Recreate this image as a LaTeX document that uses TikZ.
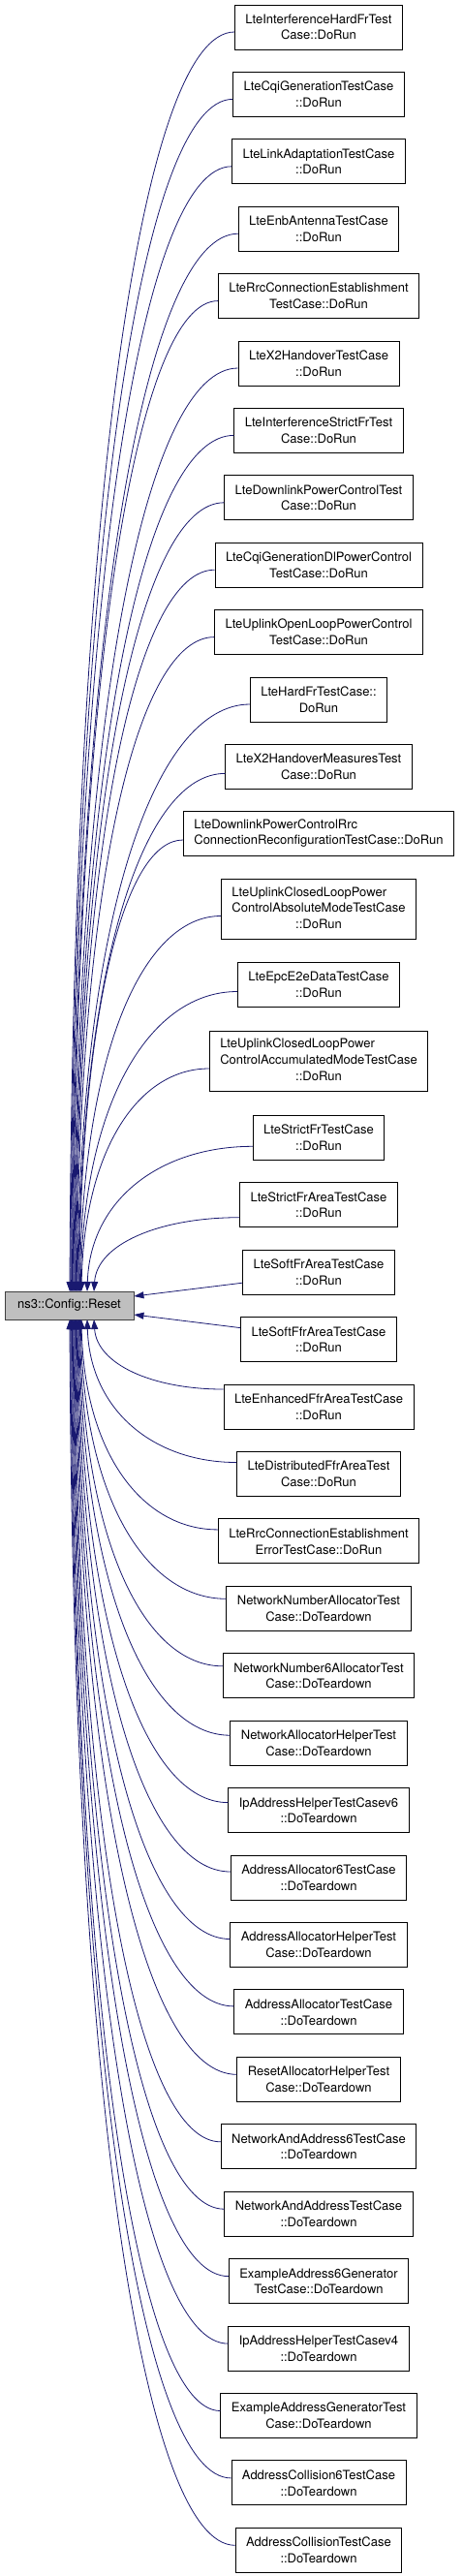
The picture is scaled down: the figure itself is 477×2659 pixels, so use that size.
\documentclass[tikz,border=0pt]{standalone}
\usepackage{fontspec}
\setmainfont{TeX Gyre Heros}
\usepackage{xcolor}
\usetikzlibrary{arrows.meta, calc, positioning}
\definecolor{edgeblue}{RGB}{25,25,112}
\definecolor{resetgray}{RGB}{191,191,191}
\definecolor{resetborder}{RGB}{64,64,64}

\begin{document}
\begin{tikzpicture}[
    x=1pt, y=-1pt,
    funcbox/.style={draw=black, fill=white, line width=0.9pt, inner xsep=11pt, inner ysep=2pt, minimum height=46pt, align=center, font=\fontsize{13}{16.7}\selectfont},
    functhree/.style={funcbox, minimum height=62pt},
    target/.style={funcbox, draw=resetborder, fill=resetgray, minimum width=133pt, minimum height=29pt},
    calledge/.style={draw=edgeblue, line width=0.8pt, -{Triangle[length=10pt,width=7pt]}}
]
\useasboundingbox (0,0) rectangle (477,2659);

% Called function
\node[target] (reset) at (71.5,1347.5) {ns3::Config::Reset};

% Callers (LTE tests)
\node[funcbox] (c1) at (329,28) {LteInterferenceHardFrTest\\Case::DoRun};
\node[funcbox] (c2) at (329,97.4) {LteCqiGenerationTestCase\\::DoRun};
\node[funcbox] (c3) at (329,166.8) {LteLinkAdaptationTestCase\\::DoRun};
\node[funcbox] (c4) at (329,236.2) {LteEnbAntennaTestCase\\::DoRun};
\node[funcbox] (c5) at (329,305.6) {LteRrcConnectionEstablishment\\TestCase::DoRun};
\node[funcbox] (c6) at (329,375) {LteX2HandoverTestCase\\::DoRun};
\node[funcbox] (c7) at (329,444.4) {LteInterferenceStrictFrTest\\Case::DoRun};
\node[funcbox] (c8) at (329,513.8) {LteDownlinkPowerControlTest\\Case::DoRun};
\node[funcbox] (c9) at (329,583.2) {LteCqiGenerationDlPowerControl\\TestCase::DoRun};
\node[funcbox] (c10) at (329,652.6) {LteUplinkOpenLoopPowerControl\\TestCase::DoRun};
\node[funcbox] (c11) at (329,722) {LteHardFrTestCase::\\DoRun};
\node[funcbox] (c12) at (329,791.4) {LteX2HandoverMeasuresTest\\Case::DoRun};
\node[funcbox, align=left] (c13) at (329,860) {LteDownlinkPowerControlRrc\\ConnectionReconfigurationTestCase::DoRun};
\node[functhree] (c14) at (329,938.5) {\begin{tabular}{@{}l@{}}LteUplinkClosedLoopPower\\ControlAbsoluteModeTestCase\\\multicolumn{1}{@{}c@{}}{::DoRun}\end{tabular}};
\node[funcbox] (c15) at (329,1016.5) {LteEpcE2eDataTestCase\\::DoRun};
\node[functhree] (c16) at (329,1095) {\begin{tabular}{@{}l@{}}LteUplinkClosedLoopPower\\ControlAccumulatedModeTestCase\\\multicolumn{1}{@{}c@{}}{::DoRun}\end{tabular}};
\node[funcbox] (c17) at (329,1174.3) {LteStrictFrTestCase\\::DoRun};
\node[funcbox] (c18) at (329,1243.7) {LteStrictFrAreaTestCase\\::DoRun};
\node[funcbox] (c19) at (329,1313.2) {LteSoftFrAreaTestCase\\::DoRun};
\node[funcbox] (c20) at (329,1382.6) {LteSoftFfrAreaTestCase\\::DoRun};
\node[funcbox] (c21) at (329,1452) {LteEnhancedFfrAreaTestCase\\::DoRun};
\node[funcbox] (c22) at (329,1521.5) {LteDistributedFfrAreaTest\\Case::DoRun};
\node[funcbox] (c23) at (329,1590.9) {LteRrcConnectionEstablishment\\ErrorTestCase::DoRun};

% Callers (internet tests)
\node[funcbox] (c24) at (329,1660.3) {NetworkNumberAllocatorTest\\Case::DoTeardown};
\node[funcbox] (c25) at (329,1729.8) {NetworkNumber6AllocatorTest\\Case::DoTeardown};
\node[funcbox] (c26) at (329,1799.2) {NetworkAllocatorHelperTest\\Case::DoTeardown};
\node[funcbox] (c27) at (329,1868.6) {IpAddressHelperTestCasev6\\::DoTeardown};
\node[funcbox] (c28) at (329,1938) {AddressAllocator6TestCase\\::DoTeardown};
\node[funcbox] (c29) at (329,2007.5) {AddressAllocatorHelperTest\\Case::DoTeardown};
\node[funcbox] (c30) at (329,2076.9) {AddressAllocatorTestCase\\::DoTeardown};
\node[funcbox] (c31) at (329,2146.3) {ResetAllocatorHelperTest\\Case::DoTeardown};
\node[funcbox] (c32) at (329,2215.8) {NetworkAndAddress6TestCase\\::DoTeardown};
\node[funcbox] (c33) at (329,2285.2) {NetworkAndAddressTestCase\\::DoTeardown};
\node[funcbox] (c34) at (329,2354.6) {ExampleAddress6Generator\\TestCase::DoTeardown};
\node[funcbox] (c35) at (329,2424.1) {IpAddressHelperTestCasev4\\::DoTeardown};
\node[funcbox] (c36) at (329,2493.5) {ExampleAddressGeneratorTest\\Case::DoTeardown};
\node[funcbox] (c37) at (329,2562.9) {AddressCollision6TestCase\\::DoTeardown};
\node[funcbox] (c38) at (329,2632.3) {AddressCollisionTestCase\\::DoTeardown};

% Calls into the top of the box
\foreach \nd/\ex/\dy in {c1/72/5, c2/72.8/5, c3/73.6/5, c4/74.4/5, c5/75.2/5, c6/76/5,
    c7/76.8/5, c8/77.6/5, c9/78.4/5, c10/79.2/5, c11/80/5, c12/80.8/7, c13/81.6/7,
    c14/82.4/7, c15/83.2/7, c16/84/8, c17/90/9, c18/97/13}
  \draw[calledge] let \p1=($(\nd.west)+(0,\dy)$), \p2=(\ex,1333) in
    (\p1) .. controls ({\x1-0.55*(\x1-\x2)},{\y1}) and ({\x2+3pt},{\y1+0.36*(\y2-\y1)}) .. (\p2);

% Calls into the side
\draw[calledge] ($(c19.west)+(0,11)$) -- ($(reset.east)+(0,-9.5)$);
\draw[calledge] ($(c20.west)+(0,-12)$) -- ($(reset.east)+(0,9.5)$);

% Calls into the bottom of the box
\foreach \nd/\ex/\dy in {c21/97/-18, c22/90/-12, c23/84/-12, c24/83.2/-10, c25/82.4/-10,
    c26/81.6/-8, c27/80.8/-8, c28/80/-6, c29/79.2/-6, c30/78.4/-6, c31/77.6/-5,
    c32/76.8/-5, c33/76/-5, c34/75.2/-5, c35/74.4/-5, c36/73.6/-5, c37/72.8/-5, c38/72/-5}
  \draw[calledge] let \p1=($(\nd.west)+(0,\dy)$), \p2=(\ex,1362) in
    (\p1) .. controls ({\x1-0.55*(\x1-\x2)},{\y1}) and ({\x2+3pt},{\y1+0.36*(\y2-\y1)}) .. (\p2);

\end{tikzpicture}
\end{document}
